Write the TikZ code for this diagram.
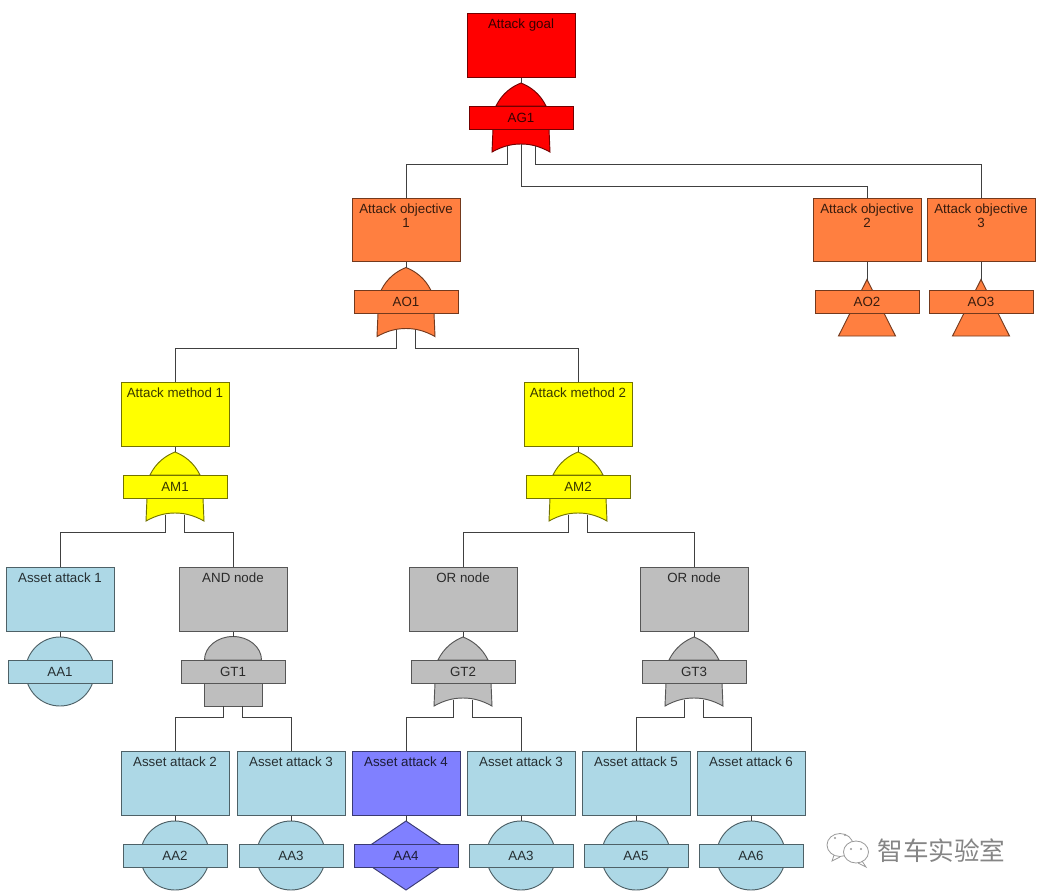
\documentclass[tikz,border=0pt]{standalone}
\usepackage{fontspec}
\setmainfont{Liberation Sans}
\newfontfamily\cjk{Noto Sans CJK SC}
\usepackage{tikz}

\definecolor{goalcol}{HTML}{FF0000}
\definecolor{objcol}{HTML}{FF7F40}
\definecolor{methodcol}{HTML}{FFFF00}
\definecolor{assetcol}{HTML}{ADD8E6}
\definecolor{nodecol}{HTML}{BEBEBE}
\definecolor{leafcol}{HTML}{8080FF}

\newcommand{\boxtext}[1]{\parbox[c][39.5pt][t]{80pt}{\centering #1}}

\newcommand{\orgate}[5][9.5]{\begin{scope}[shift={(#2.center)},yshift=-54pt]
  \draw[gatepart=#4] (-25,-11.5) .. controls (-19,-24) and (-9,-31) .. (0,-34.5)
        .. controls (9,-31) and (19,-24) .. (25,-11.5) -- cycle;
  \draw[gatepart=#4] (-28,11.5) -- (-29,34.5) .. controls (-19,29) and (-10,26.5) .. (0,26.5)
        .. controls (10,26.5) and (19,29) .. (29,34.5) -- (28,11.5) -- cycle;
  \node[gatebar=#4] (#3) at (0,0) {#5};
  \coordinate (#3t) at (0,-34.5);
  \coordinate (#3l) at (-#1,28);
  \coordinate (#3m) at (0,26.5);
  \coordinate (#3r) at (#1,28);
\end{scope}}

\newcommand{\andgate}[4]{\begin{scope}[shift={(#1.center)},yshift=-54pt]
  \draw[gatepart=#3] (-28.5,-11.5) .. controls (-28.5,-24.5) and (-15.7,-35) .. (0,-35)
        .. controls (15.7,-35) and (28.5,-24.5) .. (28.5,-11.5) -- cycle;
  \draw[gatepart=#3] (-29,11.5) rectangle (29,34.5);
  \node[gatebar=#3] (#2) at (0,0) {#4};
  \coordinate (#2t) at (0,-35);
  \coordinate (#2l) at (-9.5,34.5);
  \coordinate (#2r) at (9.5,34.5);
\end{scope}}

\newcommand{\circgate}[4]{\begin{scope}[shift={(#1.center)},yshift=-54pt]
  \draw[gatepart=#3] (0,0) circle [radius=34.5];
  \node[gatebar=#3] (#2) at (0,0) {#4};
  \coordinate (#2t) at (0,-34.5);
\end{scope}}

\newcommand{\diagate}[4]{\begin{scope}[shift={(#1.center)},yshift=-54pt]
  \draw[gatepart=#3] (0,-34.5) -- (51,0) -- (0,34.5) -- (-51,0) -- cycle;
  \node[gatebar=#3] (#2) at (0,0) {#4};
  \coordinate (#2t) at (0,-34.5);
\end{scope}}

\newcommand{\trigate}[4]{\begin{scope}[shift={(#1.center)},yshift=-54pt]
  \draw[gatepart=#3] (0,-22.5) -- (28.5,34) -- (-28.5,34) -- cycle;
  \node[gatebar=#3] (#2) at (0,0) {#4};
  \coordinate (#2t) at (0,-22.5);
\end{scope}}

\begin{document}
\begin{tikzpicture}[x=0.75pt,y=-0.75pt,font=\fontsize{10pt}{11pt}\selectfont,
        eventbox/.style={draw=#1!45!black,fill=#1,text=#1!22!black,line width=0.7pt,
          minimum width=81pt,minimum height=47.5pt,inner sep=0pt},
        gatebar/.style={draw=#1!45!black,fill=#1,text=#1!22!black,line width=0.7pt,
          minimum width=78pt,minimum height=17.2pt,inner sep=0pt},
        gatepart/.style={draw=#1!45!black,fill=#1,line width=0.7pt},
        wire/.style={draw=black!75,line width=0.7pt},
        bus/.style={to path={-- ++(0,#1) -| (\tikztotarget)}}]

  \useasboundingbox (0,0) rectangle (1040,896);

  \node[eventbox=goalcol] (ag) at (521,45.5) {\boxtext{Attack goal}};
  \node[eventbox=objcol] (ao_1) at (406,230) {\boxtext{Attack objective\\1}};
  \node[eventbox=objcol] (ao_2) at (867,230) {\boxtext{Attack objective\\2}};
  \node[eventbox=objcol] (ao_3) at (981,230) {\boxtext{Attack objective\\3}};
  \node[eventbox=methodcol] (am_1) at (175,414.5) {\boxtext{Attack method 1}};
  \node[eventbox=methodcol] (am_2) at (578,414.5) {\boxtext{Attack method 2}};
  \node[eventbox=assetcol] (aa_1) at (60,599.5) {\boxtext{Asset attack 1}};
  \node[eventbox=nodecol] (gt_1) at (233,599.5) {\boxtext{AND node}};
  \node[eventbox=nodecol] (gt_2) at (463,599.5) {\boxtext{OR node}};
  \node[eventbox=nodecol] (gt_3) at (694,599.5) {\boxtext{OR node}};
  \node[eventbox=assetcol] (aa_2) at (175,783.5) {\boxtext{Asset attack 2}};
  \node[eventbox=assetcol] (aa_3) at (291,783.5) {\boxtext{Asset attack 3}};
  \node[eventbox=leafcol] (aa_4) at (406,783.5) {\boxtext{Asset attack 4}};
  \node[eventbox=assetcol] (aa_3b) at (521,783.5) {\boxtext{Asset attack 3}};
  \node[eventbox=assetcol] (aa_5) at (636,783.5) {\boxtext{Asset attack 5}};
  \node[eventbox=assetcol] (aa_6) at (751,783.5) {\boxtext{Asset attack 6}};

  \orgate[14]{ag}{g_ag}{goalcol}{AG1}
  \orgate{ao_1}{g_ao1}{objcol}{AO1}
  \trigate{ao_2}{g_ao2}{objcol}{AO2}
  \trigate{ao_3}{g_ao3}{objcol}{AO3}
  \orgate{am_1}{g_am1}{methodcol}{AM1}
  \orgate{am_2}{g_am2}{methodcol}{AM2}
  \circgate{aa_1}{g_aa1}{assetcol}{AA1}
  \andgate{gt_1}{g_gt1}{nodecol}{GT1}
  \orgate{gt_2}{g_gt2}{nodecol}{GT2}
  \orgate{gt_3}{g_gt3}{nodecol}{GT3}
  \circgate{aa_2}{g_aa2}{assetcol}{AA2}
  \circgate{aa_3}{g_aa3}{assetcol}{AA3}
  \diagate{aa_4}{g_aa4}{leafcol}{AA4}
  \circgate{aa_3b}{g_aa3b}{assetcol}{AA3}
  \circgate{aa_5}{g_aa5}{assetcol}{AA5}
  \circgate{aa_6}{g_aa6}{assetcol}{AA6}

  \path[wire] (ag) edge (g_agt)
        (g_agl) edge [bus=18.5] (ao_1.north)
        (g_agm) edge [bus=42] (ao_2.north)
        (g_agr) edge [bus=18.5] (ao_3.north)
        (ao_1) edge (g_ao1t)
        (ao_2) edge (g_ao2t)
        (ao_3) edge (g_ao3t)
        (g_ao1l) edge [bus=18] (am_1.north)
        (g_ao1r) edge [bus=18] (am_2.north)
        (am_1) edge (g_am1t)
        (am_2) edge (g_am2t)
        (g_am1l) edge [bus=18] (aa_1.north)
        (g_am1r) edge [bus=18] (gt_1.north)
        (g_am2l) edge [bus=18] (gt_2.north)
        (g_am2r) edge [bus=18] (gt_3.north)
        (aa_1) edge (g_aa1t)
        (gt_1) edge (g_gt1t)
        (gt_2) edge (g_gt2t)
        (gt_3) edge (g_gt3t)
        (g_gt1l) edge [bus=11.5] (aa_2.north)
        (g_gt1r) edge [bus=11.5] (aa_3.north)
        (g_gt2l) edge [bus=18] (aa_4.north)
        (g_gt2r) edge [bus=18] (aa_3b.north)
        (g_gt3l) edge [bus=18] (aa_5.north)
        (g_gt3r) edge [bus=18] (aa_6.north)
        (aa_2) edge (g_aa2t)
        (aa_3) edge (g_aa3t)
        (aa_4) edge (g_aa4t)
        (aa_3b) edge (g_aa3bt)
        (aa_5) edge (g_aa5t)
        (aa_6) edge (g_aa6t);

  \draw[black!40,line width=0.6pt] (840,845) ellipse [x radius=13,y radius=11.5];
  \draw[black!40,line width=0.6pt] (834,855) -- (832,861) -- (840,857);
  \draw[black!40,fill=white,line width=0.6pt] (856,852) ellipse [x radius=12.5,y radius=11];
  \draw[black!40,line width=0.6pt] (862,861) -- (866,867) -- (858,863);
  \fill[black!40] (851,849) circle [radius=1.2] (861,849) circle [radius=1.2]
        (835,838) circle [radius=1.2] (845,835) circle [radius=1.2];
  \node[text=black!48,font=\cjk\fontsize{19.2pt}{19.2pt}\selectfont] (wm_name) at (941.5,850.5) {智车实验室};

\end{tikzpicture}
\end{document}
